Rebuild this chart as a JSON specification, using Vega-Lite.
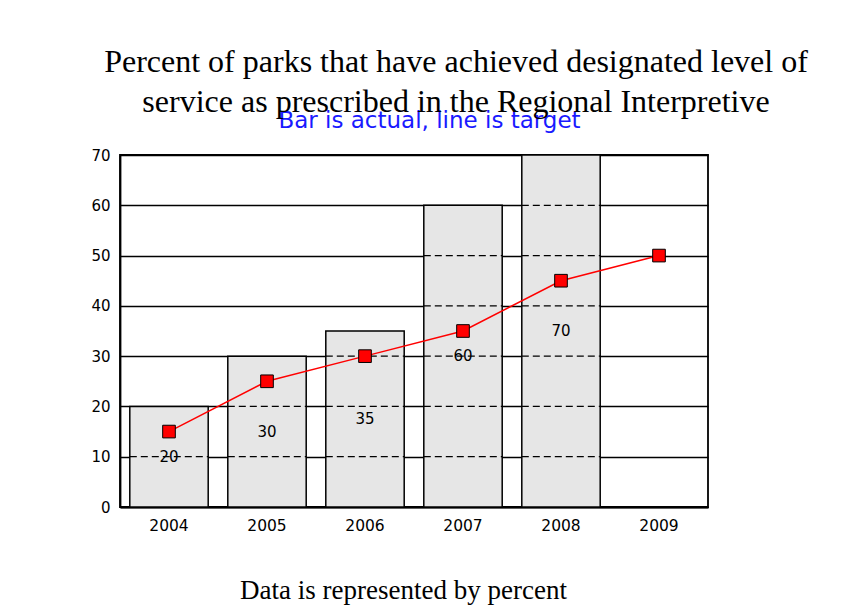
{
  "$schema": "https://vega.github.io/schema/vega-lite/v6.json",
  "width": 588,
  "height": 352,
  "autosize": {"type": "none"},
  "padding": {"left": 120, "top": 155, "right": 150, "bottom": 108},
  "background": "white",
  "title": {
    "text": ["Percent of parks that have achieved designated level of", "service as prescribed in the Regional Interpretive"],
    "font": "Liberation Serif",
    "fontSize": 32,
    "fontWeight": "normal",
    "color": "black",
    "lineHeight": 40,
    "anchor": "middle",
    "frame": "group",
    "dx": 42,
    "offset": -10
  },
  "config": {
    "view": {"stroke": "black", "strokeWidth": 1.8}
  },
  "datasets": {
    "main": [
      {"year": "2004", "actual": 20, "target": 15},
      {"year": "2005", "actual": 30, "target": 25},
      {"year": "2006", "actual": 35, "target": 30},
      {"year": "2007", "actual": 60, "target": 35},
      {"year": "2008", "actual": 70, "target": 45},
      {"year": "2009", "actual": null, "target": 50}
    ],
    "gridover": [
      {"year": "2004", "value": 10},
      {"year": "2005", "value": 10},
      {"year": "2005", "value": 20},
      {"year": "2006", "value": 10},
      {"year": "2006", "value": 20},
      {"year": "2006", "value": 30},
      {"year": "2007", "value": 10},
      {"year": "2007", "value": 20},
      {"year": "2007", "value": 30},
      {"year": "2007", "value": 40},
      {"year": "2007", "value": 50},
      {"year": "2008", "value": 10},
      {"year": "2008", "value": 20},
      {"year": "2008", "value": 30},
      {"year": "2008", "value": 40},
      {"year": "2008", "value": 50},
      {"year": "2008", "value": 60}
    ]
  },
  "encoding": {
    "x": {
      "field": "year",
      "type": "ordinal",
      "scale": {"domain": ["2004", "2005", "2006", "2007", "2008", "2009"], "paddingInner": 0.2, "paddingOuter": 0.1},
      "axis": {
        "labelAngle": 0,
        "labelFont": "DejaVu Sans",
        "labelFontSize": 15.5,
        "labelColor": "black",
        "ticks": false,
        "labelPadding": 11,
        "domainColor": "black",
        "domainWidth": 1.8,
        "title": "Data is represented by percent",
        "titleFont": "Liberation Serif",
        "titleFontSize": 27,
        "titleFontWeight": "normal",
        "titleColor": "black",
        "titleBaseline": "alphabetic",
        "titleX": 283,
        "titleY": 91
      }
    }
  },
  "layer": [
    {
      "data": {"name": "main"},
      "mark": {"type": "bar", "fill": "#e6e6e6", "stroke": "black", "strokeWidth": 1.5},
      "encoding": {
        "y": {
          "field": "actual",
          "type": "quantitative",
          "scale": {"domain": [0, 70], "nice": false},
          "axis": {
            "title": "Bar is actual, line is target",
            "titleAngle": 0,
            "titleAlign": "center",
            "titleBaseline": "alphabetic",
            "titleX": 309,
            "titleY": -28,
            "titleFont": "DejaVu Sans",
            "titleFontSize": 23,
            "titleFontWeight": "normal",
            "titleColor": "#1a1aff",
            "values": [0, 10, 20, 30, 40, 50, 60, 70],
            "grid": true,
            "gridColor": "black",
            "gridOpacity": 1,
            "gridWidth": 1.3,
            "domainColor": "black",
            "domainWidth": 1.8,
            "ticks": false,
            "labelFont": "DejaVu Sans",
            "labelFontSize": 15,
            "labelColor": "black",
            "labelPadding": 10
          }
        }
      }
    },
    {
      "data": {"name": "gridover"},
      "mark": {"type": "rule", "color": "black", "strokeWidth": 1.3, "strokeDash": [7, 4]},
      "encoding": {
        "x": {"field": "year", "type": "ordinal", "bandPosition": 0},
        "x2": {"field": "year", "bandPosition": 1},
        "y": {"field": "value", "type": "quantitative"}
      }
    },
    {
      "data": {"name": "main"},
      "mark": {"type": "line", "color": "red", "strokeWidth": 1.5},
      "encoding": {
        "y": {"field": "target", "type": "quantitative"}
      }
    },
    {
      "data": {"name": "main"},
      "mark": {"type": "point", "shape": "square", "filled": true, "fill": "red", "stroke": "black", "strokeWidth": 1, "size": 160, "opacity": 1},
      "encoding": {
        "y": {"field": "target", "type": "quantitative"}
      }
    },
    {
      "data": {"name": "main"},
      "transform": [
        {"filter": "datum.actual != null"},
        {"calculate": "datum.actual / 2", "as": "mid"}
      ],
      "mark": {"type": "text", "font": "DejaVu Sans", "fontSize": 15, "color": "black", "baseline": "middle"},
      "encoding": {
        "y": {"field": "mid", "type": "quantitative"},
        "text": {"field": "actual", "type": "quantitative"}
      }
    }
  ]
}
